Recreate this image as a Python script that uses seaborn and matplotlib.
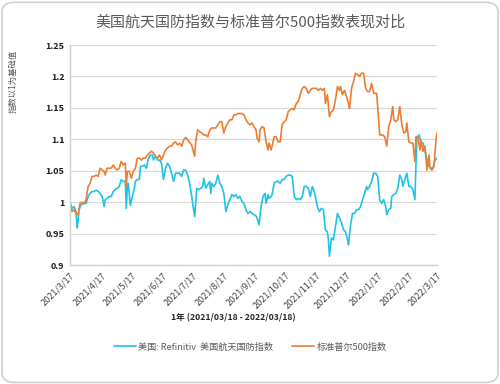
import pandas as pd
from matplotlib import pyplot as plt
from matplotlib.patches import FancyBboxPatch
import numpy as np
import seaborn as sns

# 美国航天国防指数 (Refinitiv) - 天数 / 数值
aero_days = [0, 2, 4, 6, 7, 8, 9, 11, 14, 16, 18, 20, 22, 24, 26, 28, 30, 32, 34, 35,
             37, 39, 41, 43, 45, 47, 49, 51, 53, 55, 56, 57, 58, 60, 62, 64, 65, 67, 69, 70,
             72, 74, 76, 78, 80, 82, 83, 85, 87, 89, 91, 93, 95, 97, 99, 101, 103, 105, 107, 109,
             111, 113, 115, 117, 119, 121, 122, 124, 126, 128, 130, 132, 133, 135, 137, 139, 140, 141, 143, 145,
             147, 149, 151, 153, 155, 157, 159, 161, 163, 165, 167, 169, 171, 173, 175, 177, 179, 181, 183, 185,
             186, 188, 190, 192, 194, 195, 197, 198, 200, 201, 203, 205, 207, 209, 211, 213, 215, 217, 219, 221,
             223, 225, 227, 229, 231, 233, 235, 237, 239, 241, 243, 244, 246, 248, 250, 252, 254, 256, 257, 258,
             260, 262, 264, 266, 268, 270, 272, 274, 276, 277, 279, 281, 283, 285, 287, 289, 291, 293, 295, 296,
             298, 300, 302, 304, 306, 308, 310, 312, 314, 315, 317, 319, 320, 322, 324, 326, 328, 330, 331, 333,
             335, 337, 339, 341, 343, 344, 345, 347, 349, 351, 353, 355, 357, 359, 361, 363, 365]
aero_vals = [1.0, 0.99, 0.993, 0.985, 0.959, 0.969, 0.988, 0.996, 0.998, 0.998, 1.009, 1.014, 1.017, 1.017, 1.019, 1.017, 1.014, 1.009, 0.993, 1.004,
             1.006, 1.009, 1.009, 1.017, 1.02, 1.022, 1.025, 1.036, 1.033, 1.033, 0.99, 1.025, 1.03, 0.995, 1.009, 1.022, 1.033, 1.036, 1.036, 1.057,
             1.057, 1.059, 1.054, 1.07, 1.075, 1.075, 1.067, 1.073, 1.067, 1.067, 1.062, 1.036, 1.054, 1.062, 1.057, 1.046, 1.033, 1.046, 1.046, 1.046,
             1.041, 1.051, 1.051, 1.043, 1.03, 1.01, 0.998, 0.977, 1.022, 1.02, 1.022, 1.025, 1.038, 1.022, 1.028, 1.033, 1.014, 1.03, 1.025, 1.03,
             1.043, 1.03, 1.025, 1.014, 0.985, 0.996, 1.004, 1.012, 1.009, 1.012, 1.006, 1.009, 1.001, 0.998, 0.988, 0.982, 0.985, 0.982, 0.98, 0.978,
             0.975, 0.964, 0.993, 1.009, 1.014, 0.998, 1.012, 1.006, 1.009, 1.012, 1.03, 1.033, 1.033, 1.03, 1.036, 1.036, 1.041, 1.043, 1.043, 1.041,
             1.009, 1.004, 1.006, 1.004, 1.009, 1.025, 1.025, 1.022, 1.009, 1.025, 1.017, 1.009, 0.993, 0.985, 0.99, 0.988, 0.956, 0.953, 0.94, 0.914,
             0.943, 0.94, 0.961, 0.982, 0.975, 0.967, 0.956, 0.953, 0.94, 0.932, 0.964, 0.982, 0.982, 0.988, 0.988, 0.993, 1.004, 1.014, 1.025, 1.02,
             1.025, 1.033, 1.046, 1.046, 1.041, 1.004, 0.998, 1.004, 0.993, 0.98, 0.988, 0.99, 1.009, 1.012, 1.014, 1.022, 1.043, 1.036, 1.025, 1.036,
             1.046, 1.025, 1.025, 1.02, 1.004, 1.057, 1.102, 1.107, 1.096, 1.094, 1.083, 1.067, 1.057, 1.054, 1.054, 1.067, 1.07]

# 标准普尔500指数 - 天数 / 数值
spx_days = [0, 2, 4, 6, 8, 10, 12, 14, 16, 18, 20, 22, 24, 26, 28, 30, 32, 34, 35, 37,
            39, 41, 43, 45, 47, 49, 51, 53, 55, 56, 57, 59, 61, 63, 65, 67, 69, 71, 73, 75,
            77, 79, 81, 83, 85, 87, 89, 91, 93, 95, 97, 99, 101, 103, 105, 107, 109, 111, 113, 115,
            117, 119, 121, 124, 125, 127, 129, 131, 133, 135, 137, 139, 141, 143, 145, 147, 149, 151, 153, 155,
            157, 159, 161, 163, 165, 167, 169, 171, 173, 175, 177, 179, 181, 183, 185, 186, 188, 189, 191, 193,
            195, 197, 198, 200, 201, 203, 205, 207, 209, 211, 213, 215, 217, 219, 221, 223, 225, 227, 229, 231,
            233, 235, 237, 239, 241, 243, 245, 247, 249, 251, 253, 254, 256, 258, 260, 262, 264, 266, 268, 269,
            271, 273, 275, 277, 278, 280, 282, 284, 286, 288, 290, 292, 294, 296, 298, 300, 302, 304, 305, 306,
            307, 308, 311, 313, 315, 317, 319, 321, 322, 324, 326, 328, 330, 332, 334, 335, 337, 339, 341, 343,
            344, 346, 348, 349, 351, 353, 355, 357, 358, 360, 362, 364, 365]
spx_vals = [1.0, 0.985, 0.988, 0.982, 0.98, 0.998, 1.0, 0.998, 1.004, 1.025, 1.03, 1.041, 1.041, 1.043, 1.041, 1.054, 1.051, 1.049, 1.043, 1.054,
            1.054, 1.054, 1.059, 1.054, 1.051, 1.054, 1.065, 1.059, 1.062, 1.025, 1.049, 1.049, 1.038, 1.049, 1.054, 1.07, 1.07, 1.067, 1.07, 1.07,
            1.075, 1.078, 1.081, 1.078, 1.073, 1.07, 1.075, 1.067, 1.075, 1.083, 1.086, 1.089, 1.089, 1.094, 1.096, 1.091, 1.094, 1.089, 1.099, 1.103,
            1.099, 1.095, 1.091, 1.073, 1.096, 1.115, 1.112, 1.11, 1.107, 1.107, 1.104, 1.115, 1.118, 1.118, 1.118, 1.123, 1.128, 1.128, 1.11, 1.12,
            1.126, 1.131, 1.131, 1.139, 1.139, 1.141, 1.141, 1.141, 1.139, 1.131, 1.126, 1.123, 1.126, 1.12, 1.115, 1.102, 1.096, 1.115, 1.12, 1.118,
            1.096, 1.083, 1.094, 1.083, 1.089, 1.104, 1.104, 1.096, 1.096, 1.123, 1.128, 1.131, 1.144, 1.147, 1.149, 1.147, 1.157, 1.16, 1.171, 1.181,
            1.184, 1.181, 1.173, 1.178, 1.181, 1.181, 1.181, 1.178, 1.181, 1.178, 1.181, 1.157, 1.171, 1.136, 1.144, 1.147, 1.163, 1.184, 1.178, 1.184,
            1.171, 1.178, 1.168, 1.157, 1.149, 1.181, 1.192, 1.205, 1.203, 1.2, 1.205, 1.205, 1.181, 1.176, 1.176, 1.189, 1.173, 1.173, 1.173, 1.152,
            1.131, 1.107, 1.107, 1.104, 1.089, 1.12, 1.131, 1.152, 1.131, 1.128, 1.131, 1.152, 1.123, 1.11, 1.112, 1.126, 1.096, 1.094, 1.094, 1.065,
            1.104, 1.104, 1.083, 1.099, 1.081, 1.089, 1.051, 1.075, 1.054, 1.051, 1.057, 1.099, 1.11]

start = pd.Timestamp("2021-03-17")
tick_dates = pd.date_range(start, periods=13, freq=pd.DateOffset(months=1))
tick_labels = [f"{d.year}/{d.month}/{d.day}" for d in tick_dates]

aero = pd.DataFrame({"date": start + pd.to_timedelta(aero_days, unit="D"), "value": aero_vals})
spx = pd.DataFrame({"date": start + pd.to_timedelta(spx_days, unit="D"), "value": spx_vals})

sns.set_style("white")
plt.rcParams['font.family'] = ['Noto Sans CJK SC', 'DejaVu Sans']

fig = plt.figure(figsize=(5, 3.84), dpi=100)
ax = fig.add_axes([70 / 500, 1 - 265 / 384, (437 - 70) / 500, (265 - 45) / 384])

# 外框
fig.patches.append(FancyBboxPatch((0.004, 0.004), 0.992, 0.99, boxstyle="round,pad=0,rounding_size=0.025",
                                  transform=fig.transFigure, fill=False, edgecolor="#cfcfcf", linewidth=1.2))

sns.lineplot(data=aero, x="date", y="value", ax=ax, color="#1fc3e6", linewidth=1.2,
             label="美国: Refinitiv  美国航天国防指数")
sns.lineplot(data=spx, x="date", y="value", ax=ax, color="#ed7d31", linewidth=1.2,
             label="标准普尔500指数")

ax.set_xlim(start, tick_dates[-1])
ax.set_ylim(0.9, 1.25)
ax.set_yticks([0.9, 0.95, 1.0, 1.05, 1.1, 1.15, 1.2, 1.25])
ax.set_yticklabels(["0.9", "0.95", "1", "1.05", "1.1", "1.15", "1.2", "1.25"],
                   fontsize=6.5, fontweight="bold", color="#1a1a1a")
ax.set_xticks(tick_dates)
ax.set_xticklabels(tick_labels, rotation=45, ha="right", rotation_mode="anchor",
                   fontsize=6.5, color="#404040")
ax.tick_params(axis="both", length=0, pad=4)
ax.grid(axis="y", color="#d9d9d9", linewidth=0.9)
ax.grid(axis="x", visible=False)
for side in ["top", "right"]:
    ax.spines[side].set_visible(False)
for side in ["left", "bottom"]:
    ax.spines[side].set_color("#d0d0d0")
    ax.spines[side].set_linewidth(1.0)
ax.set_xlabel("")
ax.set_ylabel("")

fig.text(0.5, 1 - 22 / 384, "美国航天国防指数与标准普尔500指数表现对比", ha="center", va="center",
         fontsize=10.8, color="#595959")
fig.text(13 / 500, 1 - 50 / 384, "指数以1为基础值", rotation=90, ha="center", va="top",
         fontsize=6, style="italic", color="#595959")
fig.text(233 / 500, 1 - 318 / 384, "1年 (2021/03/18 - 2022/03/18)", ha="center", va="center",
         fontsize=6.2, style="italic", fontweight="bold", color="#262626")

ax.legend(loc="center", bbox_to_anchor=(250 / 500, 1 - 347 / 384), bbox_transform=fig.transFigure,
          ncol=2, frameon=False, fontsize=6.6, handlelength=2.4, columnspacing=2.0,
          handletextpad=0.3, labelcolor="#595959")

fig.savefig("out.png", dpi=100)
